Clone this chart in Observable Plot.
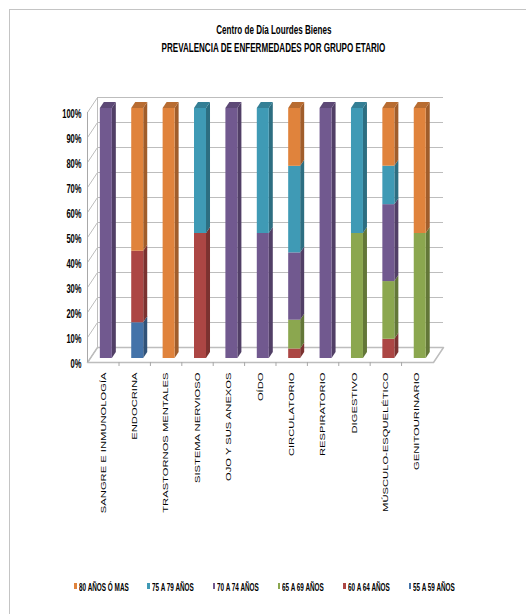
<!DOCTYPE html>
<html><head><meta charset="utf-8">
<script src="https://cdn.jsdelivr.net/npm/d3@7"></script>
<script src="https://cdn.jsdelivr.net/npm/@observablehq/plot@0.6"></script>
<style>
html,body{margin:0;padding:0;background:#fff;width:526px;height:614px;overflow:hidden;font-family:"Liberation Sans",Arial,sans-serif;}
#wrap{position:relative;width:526px;height:614px;}
#frame{position:absolute;left:9px;top:9px;width:700px;height:700px;border-left:1px solid #c4c4c4;border-top:1px solid #c4c4c4;}
#chart{position:absolute;left:0;top:0;}
.title{position:absolute;left:0;width:547px;text-align:center;font-weight:bold;font-size:13px;line-height:14px;color:#000;white-space:nowrap;}
.title span{display:inline-block;transform:scaleX(0.62);transform-origin:center;}
#legend{position:absolute;left:0;top:579px;width:526px;height:16px;}
.li{position:absolute;top:0;white-space:nowrap;height:14px;line-height:14px;}
.sw{display:inline-block;width:2.5px;height:6px;vertical-align:middle;margin-right:2px;position:relative;top:-1px;}
.lt{display:inline-block;font-weight:bold;font-size:11px;color:#000;transform:scaleX(0.58);transform-origin:left center;}
</style>
</head><body>
<div id="wrap">
  <div id="frame"></div>
  <div id="chart"></div>
  <div class="title" style="top:23px"><span>Centro de Día Lourdes Bienes</span></div>
  <div class="title" style="top:41px"><span>PREVALENCIA DE ENFERMEDADES POR GRUPO ETARIO</span></div>
  <div id="legend"></div>
</div>
<script>
// ---- data ----
const categories = ["SANGRE E INMUNOLOGÍA","ENDOCRINA","TRASTORNOS MENTALES","SISTEMA NERVIOSO","OJO Y SUS ANEXOS","OÍDO","CIRCULATORIO","RESPIRATORIO","DIGESTIVO","MÚSCULO-ESQUELÉTICO","GENITOURINARIO"];
const series = ["80 AÑOS Ó MAS","75 A 79 AÑOS","70 A 74 AÑOS","65 A 69 AÑOS","60 A 64 AÑOS","55 A 59 AÑOS"];
const colors = ["#E0833C","#3F9AB5","#71598F","#8BA74F","#AC4644","#4473A9"];
const v80 = [0, 57.1, 100, 0, 0, 0, 23.1, 0, 0, 23.1, 50];
const v75 = [0, 0, 0, 50, 0, 50, 34.6, 0, 50, 15.4, 0];
const v70 = [100, 0, 0, 0, 100, 50, 26.9, 100, 0, 30.8, 0];
const v65 = [0, 0, 0, 0, 0, 0, 11.5, 0, 50, 23.1, 50];
const v60 = [0, 28.6, 0, 50, 0, 0, 3.8, 0, 0, 7.7, 0];
const v55 = [0, 14.3, 0, 0, 0, 0, 0, 0, 0, 0, 0];
const yTicks = [0,10,20,30,40,50,60,70,80,90,100];

// ---- layout constants ----
const W = 526, H = 540, ML = 87, MR = 78, MT = 108, MB = 182;
const XMIN = -0.6, XMAX = 10.9;
const ux = (W - ML - MR) / (XMAX - XMIN);   // px per category unit
const uy = (H - MT - MB) / 100;              // px per percent
const BW = 6 / ux, BD = 4 / ux, BDY = 6 / uy; // bar half width, depth
const backDX = 10 / ux, wallDY = 15 / uy;
const xb = XMIN + backDX;
const frontRight = XMIN + (433 - ML) / ux;
const backRight = frontRight + backDX;
const GRID = "#bdbdbd";

// ---- stacked segments (bottom: 55-59 ... top: 80+) ----
const values = [v80, v75, v70, v65, v60, v55];
const segs = [];
categories.forEach((c, i) => {
  const total = d3.sum(values, v => v[i]);
  let cum = 0;
  for (let s = series.length - 1; s >= 0; s--) {
    const v = values[s][i];
    if (v > 0) {
      const lo = cum / total * 100, hi = (cum + v) / total * 100;
      segs.push({i, s, lo, hi, color: colors[s], id: i + "-" + s});
      cum += v;
    }
  }
});
const tops = categories.map((c, i) => segs.filter(d => d.i === i).slice(-1)[0]);

const sidePts = segs.flatMap(d => [
  {id: d.id, x: d.i + BW, y1: d.lo, y2: d.hi, c: d3.color(d.color).darker(0.95).formatHex()},
  {id: d.id, x: d.i + BW + BD, y1: d.lo + BDY, y2: d.hi + BDY, c: d3.color(d.color).darker(0.95).formatHex()}
]);
const topPts = tops.flatMap(d => {
  const c = d3.color(d.color).darker(0.55).formatHex();
  return [
    {id: d.id, x: d.i - BW, y1: d.hi, y2: d.hi, c},
    {id: d.id, x: d.i - BW + BD, y1: d.hi, y2: d.hi + BDY, c},
    {id: d.id, x: d.i + BW, y1: d.hi, y2: d.hi + BDY, c},
    {id: d.id, x: d.i + BW + BD, y1: d.hi + BDY, y2: d.hi + BDY, c}
  ];
});
const floor = [
  {x: XMIN, y: 0}, {x: frontRight, y: 0}, {x: backRight, y: wallDY}, {x: xb, y: wallDY}, {x: XMIN, y: 0}
];
const boundaries = d3.range(0, categories.length - 1).map(i => i + 0.5);

const plot = Plot.plot({
  width: W, height: H,
  marginLeft: ML, marginRight: MR, marginTop: MT, marginBottom: MB,
  x: {domain: [XMIN, XMAX], axis: null},
  y: {domain: [0, 100], axis: null},
  color: {type: "identity"},
  style: {fontFamily: "'Liberation Sans', Arial, sans-serif", background: "transparent", overflow: "visible"},
  marks: [
    Plot.line(floor, {x: "x", y: "y", dy: 4, stroke: GRID, fill: "white"}),
    Plot.ruleY(yTicks, {y: d => d, x1: xb, x2: backRight, dy: -11, stroke: GRID}),
    Plot.link(yTicks, {x1: XMIN, x2: xb, y1: d => d, y2: d => d + wallDY, dy: 4, stroke: GRID}),
    Plot.ruleX([xb], {y1: 0, y2: 100, dy: -11, stroke: GRID}),
    Plot.ruleX([XMIN], {y1: 0, y2: 100, dy: 4, stroke: "#a8a8a8"}),
    Plot.ruleX(boundaries, {x: d => d, y1: 0, y2: -4 / uy, dy: 4, dx: -3, stroke: "#a8a8a8"}),
    Plot.areaY(sidePts, {x: "x", y1: "y1", y2: "y2", z: "id", fill: "c", curve: "linear"}),
    Plot.areaY(topPts, {x: "x", y1: "y1", y2: "y2", z: "id", fill: "c", curve: "linear"}),
    Plot.rect(segs, {x1: d => d.i - BW, x2: d => d.i + BW, y1: "lo", y2: "hi", fill: "color"}),
    Plot.text(yTicks, {x: XMIN, y: d => d, text: d => d + "%", textAnchor: "end", dx: -6, dy: 5,
      fontSize: 13, fontWeight: "bold", fill: "#000"}),
    Plot.text(categories, {x: (d, i) => i, y: 0, text: d => d, rotate: -90, textAnchor: "end",
      dy: 14, dx: -3, fontSize: 7, fill: "#000"})
  ]
});
document.getElementById("chart").appendChild(plot);

// condensed / stretched text (the reference image is anisotropically scaled)
const textGroups = plot.querySelectorAll('g[aria-label="text"]');
function fit(group, k) {
  if (!group) return;
  group.querySelectorAll("text").forEach(t => {
    const l = t.getComputedTextLength();
    if (l > 0) {
      t.setAttribute("textLength", (l * k).toFixed(2));
      t.setAttribute("lengthAdjust", "spacingAndGlyphs");
    }
  });
}
fit(textGroups[0], 0.58);
fit(textGroups[1], 1.6);

// ---- legend ----
const leg = d3.select("#legend");
let lx = 74;
series.forEach((s, k) => {
  const item = leg.append("div").attr("class", "li").style("left", lx + "px");
  item.append("span").attr("class", "sw").style("background", colors[k]);
  const t = item.append("span").attr("class", "lt").text(s);
  const w = t.node().getBoundingClientRect().width;
  lx += 4.5 + w + 19;
});
</script>
</body></html>
